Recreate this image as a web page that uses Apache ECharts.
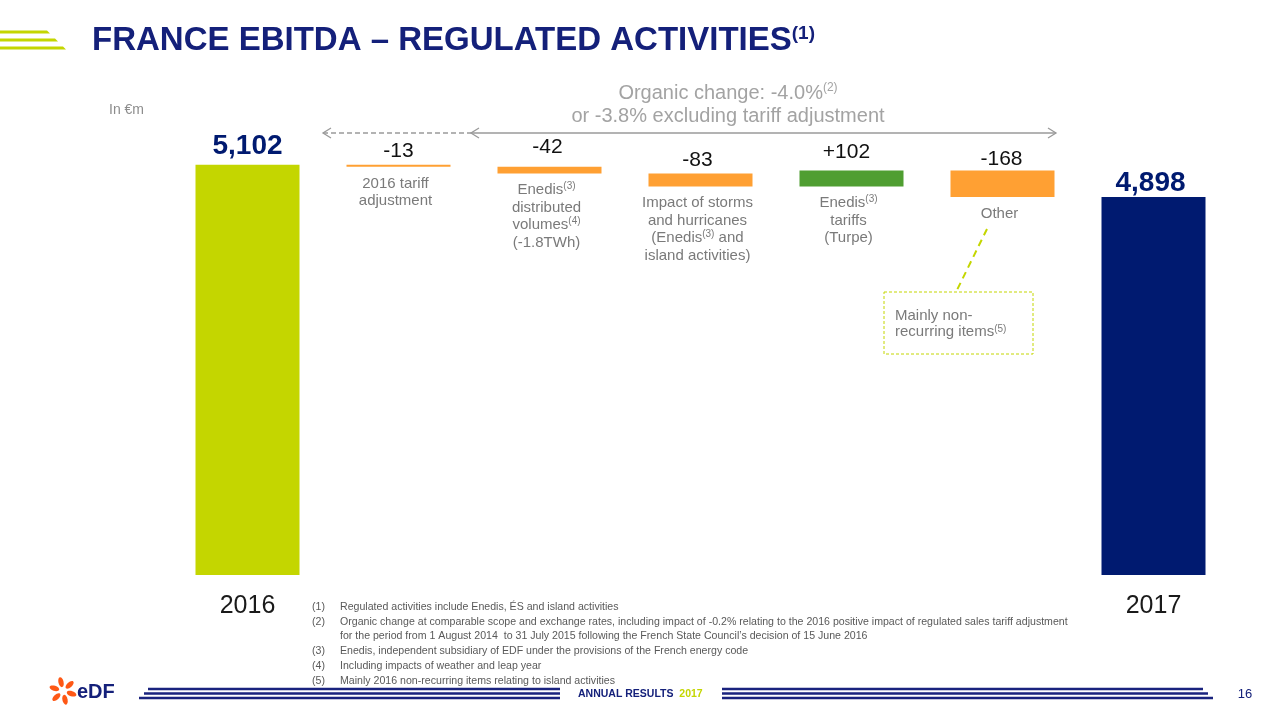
<!DOCTYPE html>
<html>
<head>
<meta charset="utf-8">
<script src="https://cdn.jsdelivr.net/npm/echarts@6/dist/echarts.min.js"></script>
<style>
html,body{margin:0;padding:0;background:#fff;}
#chart{width:1280px;height:720px;}
</style>
</head>
<body>
<div id="chart"></div>
<script>
const categories = ['2016', '2016 tariff adjustment', 'Enedis distributed volumes', 'Impact of storms and hurricanes', 'Enedis tariffs (Turpe)', 'Other', '2017'];
const values = [5102, -13, -42, -83, 102, -168, 4898];
const valueLabels = ['5,102', '-13', '-42', '-83', '+102', '-168', '4,898'];
const tickLabels = ['2016', '', '', '', '', '', '2017'];
const descriptions = [null, '2016 tariff\nadjustment', 'Enedis{s|(3)}\ndistributed\nvolumes{s|(4)}\n(-1.8TWh)', 'Impact of storms\nand hurricanes\n(Enedis{s|(3)} and\nisland activities)', 'Enedis{s|(3)}\ntariffs\n(Turpe)', 'Other', null];
const footnotes = [
  ['(1)', 'Regulated activities include Enedis, ÉS and island activities'],
  ['(2)', 'Organic change at comparable scope and exchange rates, including impact of -0.2% relating to the 2016 positive impact of regulated sales tariff adjustment'],
  ['', 'for the period from 1 August 2014  to 31 July 2015 following the French State Council\u2019s decision of 15 June 2016'],
  ['(3)', 'Enedis, independent subsidiary of EDF under the provisions of the French energy code'],
  ['(4)', 'Including impacts of weather and leap year'],
  ['(5)', 'Mainly 2016 non-recurring items relating to island activities']
];

const C_LIME = '#c4d600', C_NAVY = '#001a70', C_ORANGE = '#ffa033', C_GREEN = '#4f9e31';
const TITLE_NAVY = '#14207a';
const FONT = 'Liberation Sans, Arial, sans-serif';

// waterfall decomposition
const baseVals = [], visVals = [];
let running = values[0];
values.forEach((v, i) => {
  if (i === 0 || i === values.length - 1) { baseVals.push(0); visVals.push(v); return; }
  if (v < 0) { baseVals.push(running + v); visVals.push(-v); }
  else { baseVals.push(running); visVals.push(v); }
  running += v;
});

function colorFor(i) {
  if (i === 0) return C_LIME;
  if (i === values.length - 1) return C_NAVY;
  return values[i] < 0 ? C_ORANGE : C_GREEN;
}
const labelDist = [4, 3, 9, 3, 8, 1, 0];
const labelOffX = [0, 0, -2, -3, -5, -1, -3];

const chart = echarts.init(document.getElementById('chart'), null, {renderer: 'canvas'});

const option = {
  animation: false,
  backgroundColor: '#ffffff',
  grid: {left: 172, width: 1057, top: 102, height: 473, containLabel: false},
  xAxis: {
    type: 'category', data: categories,
    axisLine: {show: false}, axisTick: {show: false}, splitLine: {show: false},
    axisLabel: {
      interval: 0, margin: 19, fontSize: 25, color: '#1a1a1a', fontFamily: FONT,
      formatter: (v, i) => tickLabels[i]
    }
  },
  yAxis: {
    type: 'value', min: 2500, max: 5500, interval: 500, show: false,
    splitLine: {show: false}
  },
  series: [
    {
      type: 'bar', stack: 'wf', barWidth: 104, clip: true, silent: true,
      itemStyle: {color: 'transparent'},
      data: baseVals
    },
    {
      type: 'bar', stack: 'wf', barWidth: 104, clip: true,
      data: visVals.map((v, i) => {
        const ends = (i === 0 || i === values.length - 1);
        return {
          value: v,
          itemStyle: {color: colorFor(i)},
          label: {
            show: true, position: 'top', distance: labelDist[i], offset: [labelOffX[i], 0],
            formatter: valueLabels[i],
            fontFamily: FONT,
            fontSize: ends ? 28 : 21,
            fontWeight: ends ? 'bold' : 'normal',
            color: ends ? C_NAVY : '#111111'
          }
        };
      })
    }
  ]
};
chart.setOption(option);

// ---- annotations ----
const g = [];
// top-left lime lines
[[32, 50], [40, 58], [48, 66]].forEach(([y, len]) => {
  g.push({type: 'polygon', shape: {points: [[0, y - 1.5], [len - 3, y - 1.5], [len, y + 1.5], [0, y + 1.5]]}, style: {fill: C_LIME}});
});
// title
g.push({type: 'text', x: 92, y: 41, style: {
  text: 'FRANCE EBITDA \u2013 REGULATED ACTIVITIES{s|(1)}', fill: TITLE_NAVY, fontFamily: FONT, fontWeight: 'bold', fontSize: 33,
  verticalAlign: 'middle', align: 'left',
  rich: {s: {fontSize: 19, fontWeight: 'bold', fill: TITLE_NAVY, fontFamily: FONT, verticalAlign: 'top', padding: [0, 0, 14, 0]}}
}});
// In €m
g.push({type: 'text', x: 109, y: 110, style: {text: 'In \u20acm', fill: '#8c8c8c', fontFamily: FONT, fontSize: 14, verticalAlign: 'middle'}});
// organic change
g.push({type: 'text', x: 728, y: 93, style: {
  text: 'Organic change: -4.0%{s|(2)}', fill: '#a3a3a3', fontFamily: FONT, fontSize: 20, align: 'center', verticalAlign: 'middle',
  rich: {s: {fontSize: 12, fill: '#a3a3a3', fontFamily: FONT, verticalAlign: 'top', padding: [0, 0, 10, 0]}}
}});
g.push({type: 'text', x: 728, y: 116, style: {
  text: 'or -3.8% excluding tariff adjustment', fill: '#a3a3a3', fontFamily: FONT, fontSize: 20, align: 'center', verticalAlign: 'middle'
}});
// arrows
const AY = 133, AC = '#9a9a9a';
g.push({type: 'line', shape: {x1: 323, y1: AY, x2: 470, y2: AY}, style: {stroke: AC, lineWidth: 1.3, lineDash: [5, 3]}});
g.push({type: 'polyline', shape: {points: [[331, AY - 5], [323, AY], [331, AY + 5]]}, style: {stroke: AC, lineWidth: 1.3, fill: null}});
g.push({type: 'line', shape: {x1: 470, y1: AY, x2: 1056, y2: AY}, style: {stroke: AC, lineWidth: 1.3}});
g.push({type: 'polyline', shape: {points: [[479, AY - 5], [471, AY], [479, AY + 5]]}, style: {stroke: AC, lineWidth: 1.3, fill: null}});
g.push({type: 'polyline', shape: {points: [[1048, AY - 5], [1056, AY], [1048, AY + 5]]}, style: {stroke: AC, lineWidth: 1.3, fill: null}});

// descriptions under bars
descriptions.forEach((d, i) => {
  if (!d) return;
  const x = chart.convertToPixel({xAxisIndex: 0}, i);
  const y = chart.convertToPixel({yAxisIndex: 0}, baseVals[i]);
  g.push({type: 'text', x: x - 3, y: y + 8, style: {
    text: d, fill: '#7a7a7a', fontFamily: FONT, fontSize: 15, lineHeight: 17.5, align: 'center', verticalAlign: 'top',
    rich: {s: {fontSize: 10, fill: '#7a7a7a', fontFamily: FONT, lineHeight: 17.5, verticalAlign: 'top', padding: [0, 0, 7, 0]}}
  }});
});

// callout
g.push({type: 'line', shape: {x1: 987, y1: 229, x2: 957, y2: 290}, style: {stroke: C_LIME, lineWidth: 2, lineDash: [7, 5]}});
g.push({type: 'rect', shape: {x: 884, y: 292, width: 149, height: 62}, style: {stroke: C_LIME, lineWidth: 1, lineDash: [3, 2], fill: null}});
g.push({type: 'text', x: 895, y: 324, style: {
  text: 'Mainly non-\nrecurring items{s|(5)}', fill: '#7a7a7a', fontFamily: FONT, fontSize: 15, lineHeight: 16, verticalAlign: 'middle',
  rich: {s: {fontSize: 10, fill: '#7a7a7a', fontFamily: FONT, lineHeight: 16, verticalAlign: 'top', padding: [0, 0, 6, 0]}}
}});

// footnotes
const fnY = [607, 622, 636, 651, 666, 681];
footnotes.forEach((f, i) => {
  if (f[0]) g.push({type: 'text', x: 312, y: fnY[i], style: {text: f[0], fill: '#595959', fontFamily: FONT, fontSize: 10.6, verticalAlign: 'middle'}});
  g.push({type: 'text', x: 340, y: fnY[i], style: {text: f[1], fill: '#595959', fontFamily: FONT, fontSize: 10.6, verticalAlign: 'middle'}});
});

// footer stripes
[[689, 148], [693.5, 144], [698, 139]].forEach(([y, x0]) => {
  g.push({type: 'line', shape: {x1: x0, y1: y, x2: 560, y2: y}, style: {stroke: '#1a237e', lineWidth: 2.5}});
});
[[689, 1203], [693.5, 1208], [698, 1213]].forEach(([y, x1]) => {
  g.push({type: 'line', shape: {x1: 722, y1: y, x2: x1, y2: y}, style: {stroke: '#1a237e', lineWidth: 2.5}});
});
g.push({type: 'text', x: 578, y: 694, style: {
  text: 'ANNUAL RESULTS  {y|2017}', fill: '#14207a', fontFamily: FONT, fontWeight: 'bold', fontSize: 10.5, verticalAlign: 'middle',
  rich: {y: {fill: C_LIME, fontFamily: FONT, fontWeight: 'bold', fontSize: 10.5}}
}});
g.push({type: 'text', x: 1245, y: 694, style: {text: '16', fill: '#14207a', fontFamily: FONT, fontSize: 13, align: 'center', verticalAlign: 'middle'}});

// EDF logo
const LX = 63, LY = 691;
for (let k = 0; k < 6; k++) {
  const ang = k * Math.PI / 3 + 0.3;
  const r = 9;
  g.push({type: 'ellipse', x: LX + r * Math.cos(ang), y: LY + r * Math.sin(ang), rotation: -ang,
    shape: {cx: 0, cy: 0, rx: 5, ry: 2.6}, style: {fill: '#fe5815'}});
}
g.push({type: 'text', x: 77, y: 692, style: {text: 'eDF', fill: '#14207a', fontFamily: FONT, fontWeight: 'bold', fontSize: 20, verticalAlign: 'middle'}});

chart.setOption({graphic: {elements: g}});
</script>
</body>
</html>
